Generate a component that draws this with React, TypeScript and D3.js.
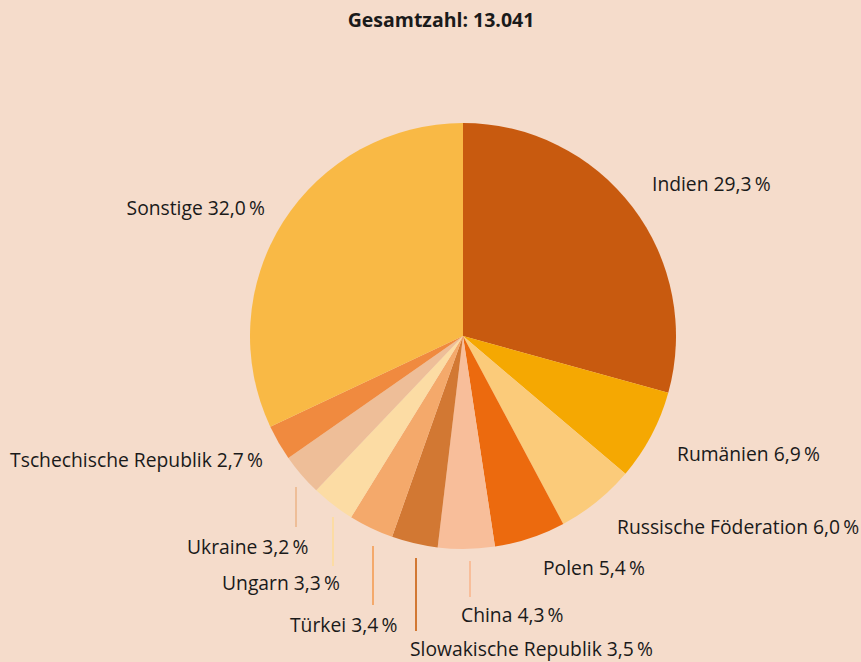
import React from "react";
import * as d3 from "d3";

const categories = [
  "Indien",
  "Rumänien",
  "Russische Föderation",
  "Polen",
  "China",
  "Slowakische Republik",
  "Türkei",
  "Ungarn",
  "Ukraine",
  "Tschechische Republik",
  "Sonstige",
];
const values = [29.3, 6.9, 6.0, 5.4, 4.3, 3.5, 3.4, 3.3, 3.2, 2.7, 32.0];
const colors = [
  "#C85A0F",
  "#F5A802",
  "#FBCB7A",
  "#EC6A0E",
  "#F8BE9A",
  "#D27833",
  "#F4A96B",
  "#FCDCA4",
  "#EEBE98",
  "#F08A3F",
  "#F9B945",
];
const title = "Gesamtzahl: 13.041";

// label layout (x, y baseline, anchor, leader line [x, y1, y2] or null)
const labelLayout: [number, number, string, number[] | null][] = [
  [652, 191, "start", null],
  [677, 461, "start", null],
  [617, 534, "start", null],
  [543, 575, "start", null],
  [461, 622, "start", [470, 561, 597]],
  [410, 656, "start", [416, 558, 631]],
  [290, 632, "start", [373, 546, 605]],
  [222, 590, "start", [333, 517, 566]],
  [187, 554, "start", [296, 487, 527]],
  [263, 467, "end", null],
  [265, 215, "end", null],
];

const W = 861;
const H = 662;
const cx = 463;
const cy = 336;
const R = 213;

const fmt = (v: number) => v.toFixed(1).replace(".", ",") + "\u2009%";

export default function App() {
  const pie = d3.pie<number>().sort(null).value((d) => d);
  const arcs = pie(values);
  const arc = d3.arc<d3.PieArcDatum<number>>().innerRadius(0).outerRadius(R);
  return (
    <svg
      width={W}
      height={H}
      style={{ position: "absolute", left: 0, top: 0, background: "#F5DCCB" }}
      fontFamily="'Open Sans', sans-serif"
    >
      <rect width={W} height={H} fill="#F5DCCB" />
      <text x={441} y={27} textAnchor="middle" fontWeight="bold" fontSize={19.5} fill="#1a1a1a">
        {title}
      </text>
      <g transform={`translate(${cx},${cy})`}>
        {arcs.map((a, i) => (
          <path key={i} d={arc(a) || ""} fill={colors[i]} />
        ))}
      </g>
      {labelLayout.map(([x, y, anchor, line], i) => (
        <g key={i}>
          {line && (
            <line x1={line[0]} x2={line[0]} y1={line[1]} y2={line[2]} stroke={colors[i]} strokeWidth={2} />
          )}
          <text x={x} y={y} textAnchor={anchor as any} fontSize={19.3} fill="#1a1a1a">
            {categories[i] + " " + fmt(values[i])}
          </text>
        </g>
      ))}
    </svg>
  );
}
